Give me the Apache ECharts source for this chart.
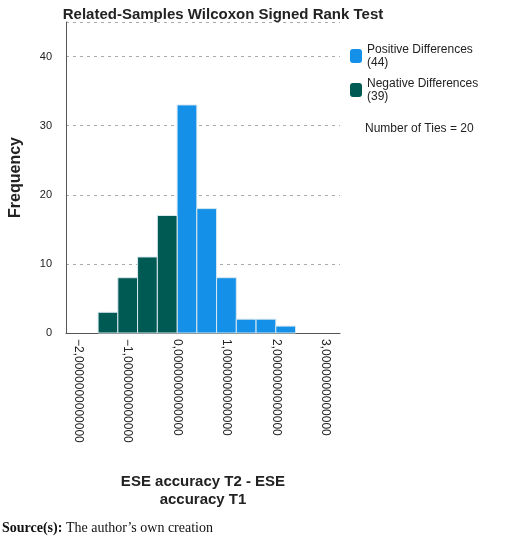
<!DOCTYPE html>
<html><head><meta charset="utf-8">
<script src="https://cdn.jsdelivr.net/npm/echarts@6/dist/echarts.min.js"></script>
<style>html,body{margin:0;padding:0;background:#fff}#c{width:520px;height:544px}</style>
</head><body><div id="c"></div>
<script>
var binStarts = [-1.6,-1.2,-0.8,-0.4,0,0.4,0.8,1.2,1.6,2.0];
var binWidth = 0.4;
var counts = [3,8,11,17,33,18,8,2,2,1];
var isPositive = [0,0,0,0,1,1,1,1,1,1];
var xTicks = [-2,-1,0,1,2,3];
var yTicks = [0,10,20,30,40];
var posName = 'Positive Differences\n(44)';
var negName = 'Negative Differences\n(39)';

function mk(pos){
  var d=[];
  for(var i=0;i<counts.length;i++) if(isPositive[i]===pos) d.push([binStarts[i],binStarts[i]+binWidth,counts[i]]);
  return d;
}
function render(params, api){
  var a=api.coord([api.value(0),api.value(2)]);
  var b=api.coord([api.value(1),0]);
  return {type:'rect',shape:{x:a[0],y:a[1],width:b[0]-a[0],height:b[1]-a[1]},
    style:{fill:api.visual('color'),stroke:'#d8e8f0',lineWidth:1}};
}
function fmt(v){return (v<0?'\u2212':'')+Math.abs(v)+',0000000000000';}
var chart=echarts.init(document.getElementById('c'));
chart.setOption({
  animation:false,
  title:{text:'Related-Samples Wilcoxon Signed Rank Test',left:218,textAlign:'center',top:2,
    textStyle:{fontFamily:'Liberation Sans',fontSize:15,fontWeight:'bold',color:'#222'}},
  legend:{orient:'vertical',left:345,top:38,itemWidth:12,itemHeight:14,itemGap:8,
    data:[posName,negName],
    textStyle:{fontFamily:'Liberation Sans',fontSize:12,color:'#222',lineHeight:13}},
  grid:{left:58,right:180,top:22,bottom:211},
  xAxis:{type:'value',min:-2.25,max:3.3,
    axisLine:{onZero:false,lineStyle:{color:'#555'}},axisTick:{show:false},splitLine:{show:false},
    axisLabel:{customValues:xTicks,rotate:-90,formatter:fmt,fontFamily:'Liberation Sans',fontSize:12,color:'#222',margin:6},
    name:'ESE accuracy T2 - ESE\naccuracy T1',nameLocation:'middle',nameGap:140,
    nameTextStyle:{fontFamily:'Liberation Sans',fontSize:15,fontWeight:'bold',color:'#222',lineHeight:18}},
  yAxis:{type:'value',min:0,max:45,
    axisLine:{show:true,onZero:false,lineStyle:{color:'#555'}},axisTick:{show:false},
    axisLabel:{customValues:yTicks,fontFamily:'Liberation Sans',fontSize:11,color:'#222',margin:14},
    splitLine:{show:true,lineStyle:{type:[3,4],color:'#aaa'}},
    name:'Frequency',nameLocation:'middle',nameGap:42,
    nameTextStyle:{fontFamily:'Liberation Sans',fontSize:16,fontWeight:'bold',color:'#222'}},
  series:[
    {type:'custom',name:posName,color:'#1590e8',renderItem:render,encode:{x:[0,1],y:2},data:mk(1)},
    {type:'custom',name:negName,color:'#005a54',renderItem:render,encode:{x:[0,1],y:2},data:mk(0)}
  ],
  graphic:[
    {type:'text',left:365,top:123,style:{text:'Number of Ties = 20',font:'12px Liberation Sans',fill:'#222'}},
    {type:'text',left:2,top:521,style:{text:'{b|Source(s):} The author\u2019s own creation',
      font:'14px Liberation Serif',fill:'#111',rich:{b:{fontWeight:'bold',fontFamily:'Liberation Serif',fontSize:14}}}}
  ]
});
</script></body></html>
